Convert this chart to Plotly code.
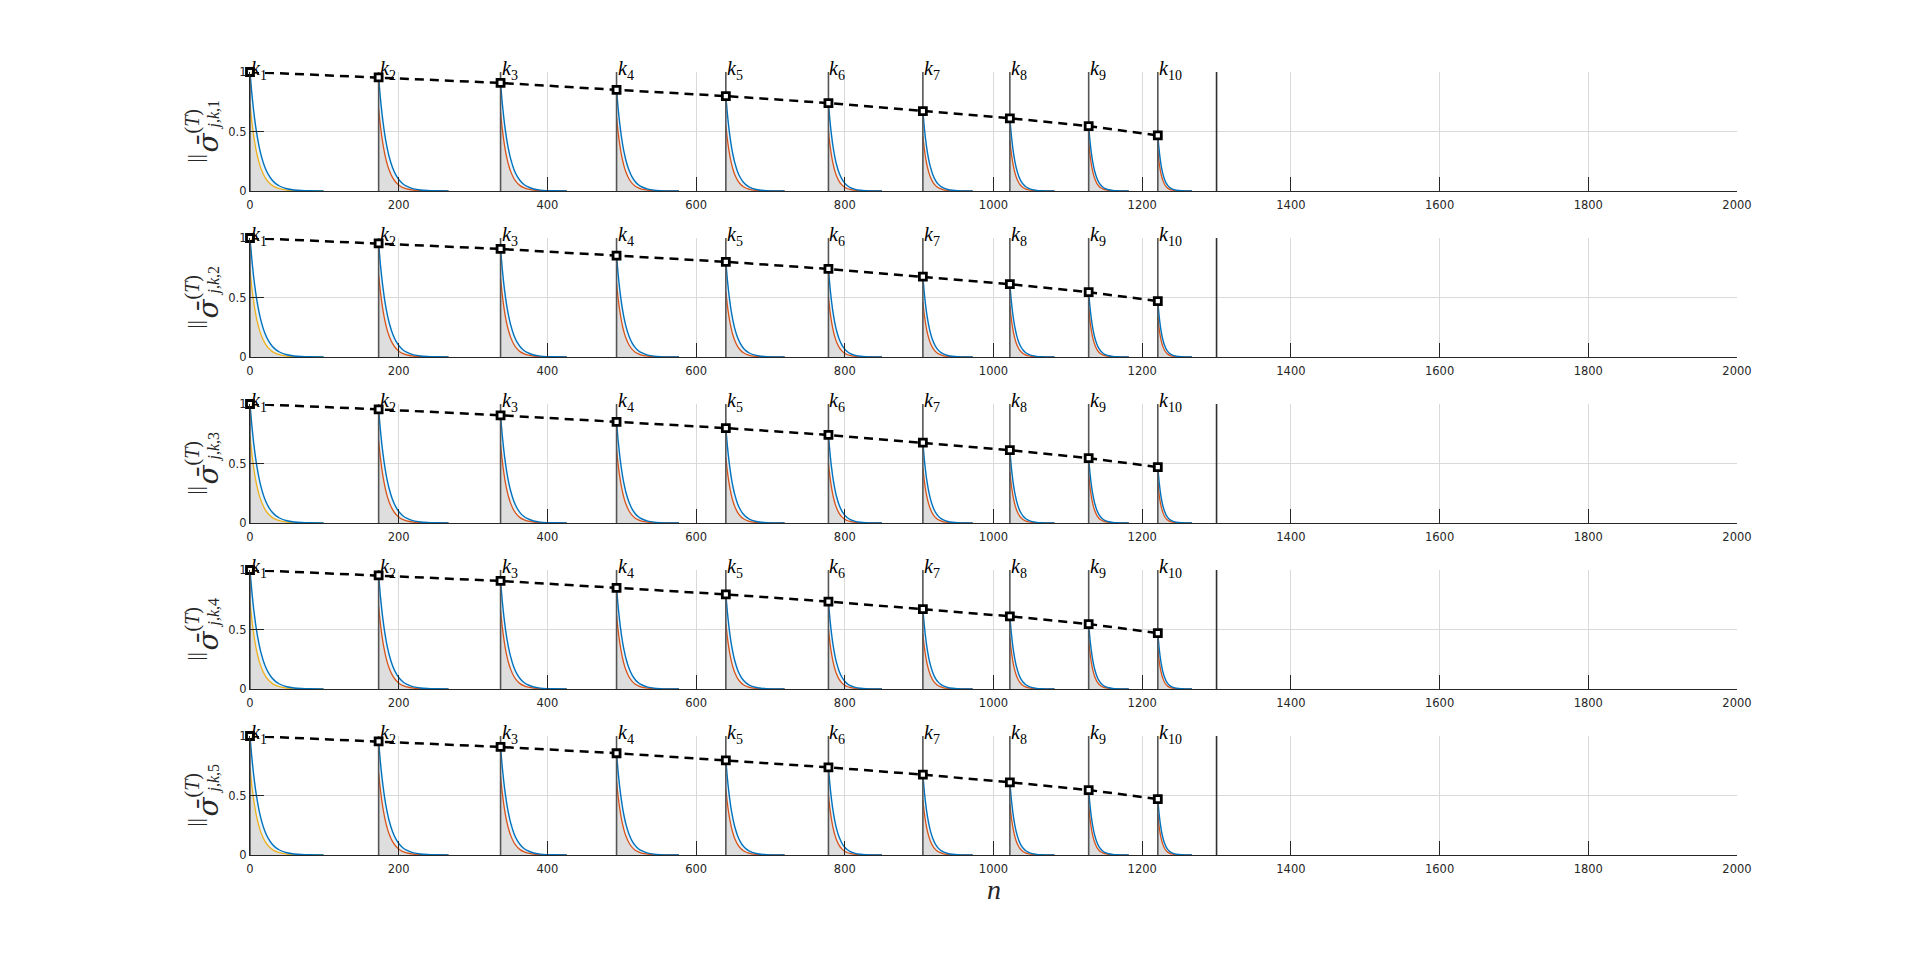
import plotly.graph_objects as go

# ---------------- data ----------------
X_TICKS = [0, 200, 400, 600, 800, 1000, 1200, 1400, 1600, 1800, 2000]
X_TICK_LABELS = ["0", "200", "400", "600", "800", "1000", "1200", "1400", "1600", "1800", "2000"]
Y_TICKS = [0, 0.5, 1]
Y_TICK_LABELS = ["0", "0.5", "1"]

K_NAMES = ["1", "2", "3", "4", "5", "6", "7", "8", "9", "10"]
K_POS = [0, 173, 337, 493, 640, 778, 905, 1022, 1128, 1221]
END_N = 1300

# peak of the leading (blue) curve at each k, per panel
PEAKS_1 = [1.0, 0.955, 0.908, 0.850, 0.798, 0.739, 0.672, 0.611, 0.546, 0.468]
PEAKS_2 = [1.0, 0.955, 0.908, 0.852, 0.800, 0.740, 0.675, 0.612, 0.545, 0.470]
PEAKS_3 = [1.0, 0.955, 0.905, 0.850, 0.798, 0.740, 0.675, 0.612, 0.545, 0.470]
PEAKS_4 = [1.0, 0.955, 0.908, 0.850, 0.795, 0.735, 0.672, 0.611, 0.546, 0.470]
PEAKS_5 = [1.0, 0.955, 0.908, 0.855, 0.795, 0.737, 0.675, 0.611, 0.546, 0.470]
PANEL_PEAKS = [PEAKS_1, PEAKS_2, PEAKS_3, PEAKS_4, PEAKS_5]

# start value of the lower curve (yellow at k1, red afterwards)
LOWER_START = [0.73, 0.69, 0.66, 0.62, 0.55, 0.50, 0.46, 0.43, 0.41, 0.34]
# visible length of each decay (in n)
CURVE_LEN = [99, 94, 89, 84, 79, 72, 67, 60, 54, 46]

# normalized decay shapes sampled along the curve (fraction of its length)
PROFILE_U = [0, 0.025, 0.05, 0.075, 0.1, 0.125, 0.15, 0.2, 0.25, 0.3, 0.35, 0.4, 0.5, 0.6, 0.7, 0.8, 1.0]
BLUE_PROFILE = [1, 0.82, 0.672, 0.551, 0.452, 0.371, 0.304, 0.204, 0.137, 0.092, 0.062, 0.042, 0.019, 0.0085, 0.0039, 0.0017, 0.0004]
LOWER_PROFILE = [1, 0.797, 0.635, 0.506, 0.403, 0.321, 0.256, 0.162, 0.103, 0.065, 0.042, 0.026, 0.011, 0.004, 0.0017, 0.0007, 0.0001]

SUB_INDEX = ["1", "2", "3", "4", "5"]

# ---------------- style ----------------
BLUE = "#0072BD"
RED = "#D95319"
YELLOW = "#EDB120"
AX = "#262626"
GRID = "#d9d9d9"
TICKFONT = dict(family="DejaVu Sans", size=11.5, color=AX)
SERIF = "Liberation Serif"

W, H = 1920, 961
L_PX, R_PX = 250, 182.5
T_PX, B_PX = 72, 106
PANEL_TOPS = [72, 238, 404, 570, 736]
PANEL_H = 119
PLOT_H = H - T_PX - B_PX

fig = go.Figure()
layout = dict(
    width=W, height=H, paper_bgcolor="white", plot_bgcolor="white",
    margin=dict(l=L_PX, r=R_PX, t=T_PX, b=B_PX, pad=0),
    showlegend=False,
)
annotations = []

for p in range(5):
    sfx = "" if p == 0 else str(p + 1)
    xr, yr = "x" + sfx, "y" + sfx
    peaks = PANEL_PEAKS[p]
    bottom_frac = (H - B_PX - (PANEL_TOPS[p] + PANEL_H)) / PLOT_H
    top_frac = (H - B_PX - PANEL_TOPS[p]) / PLOT_H

    # decays with shaded areas
    for i, k in enumerate(K_POS):
        xs = [k + u * CURVE_LEN[i] for u in PROFILE_U]
        low = [LOWER_START[i] * v for v in LOWER_PROFILE]
        up = [peaks[i] * v for v in BLUE_PROFILE]
        lc = YELLOW if i == 0 else RED
        fig.add_trace(go.Scatter(x=xs, y=low, xaxis=xr, yaxis=yr, mode="lines",
                                 line=dict(color=lc, width=1.3, shape="spline", smoothing=0.6),
                                 fill="tozeroy", fillcolor="rgba(200,200,200,0.6)",
                                 hoverinfo="skip"))
        fig.add_trace(go.Scatter(x=xs, y=up, xaxis=xr, yaxis=yr, mode="lines",
                                 line=dict(color=BLUE, width=1.4, shape="spline", smoothing=0.6),
                                 fill="tonexty", fillcolor="rgba(0,114,189,0.09)",
                                 hoverinfo="skip"))

    # vertical lines at each k
    vx, vy = [], []
    for k in K_POS:
        vx += [k, k, None]
        vy += [0, 1, None]
    fig.add_trace(go.Scatter(x=vx, y=vy, xaxis=xr, yaxis=yr, mode="lines",
                             line=dict(color="#555555", width=1.6), hoverinfo="skip"))
    fig.add_trace(go.Scatter(x=[END_N, END_N], y=[0, 1], xaxis=xr, yaxis=yr, mode="lines",
                             line=dict(color="#303030", width=1.6), hoverinfo="skip"))

    # dashed peak envelope with square markers
    fig.add_trace(go.Scatter(x=K_POS, y=peaks, xaxis=xr, yaxis=yr, mode="lines+markers",
                             line=dict(color="black", width=2.5, dash="9px,6px"),
                             marker=dict(symbol="square", size=7, color="white",
                                         line=dict(color="black", width=2.8)),
                             cliponaxis=False, hoverinfo="skip"))

    layout["xaxis" + sfx] = dict(
        domain=[0, 1], anchor=yr, range=[0, 2000],
        tickmode="array", tickvals=X_TICKS, ticktext=X_TICK_LABELS,
        ticks="inside", ticklen=14, tickwidth=1, tickcolor=AX,
        showline=True, linecolor=AX, linewidth=1.2,
        showgrid=True, gridcolor=GRID, gridwidth=1, zeroline=False,
        tickfont=TICKFONT, ticklabelstandoff=3,
    )
    layout["yaxis" + sfx] = dict(
        domain=[bottom_frac, top_frac], anchor=xr, range=[0, 1],
        tickmode="array", tickvals=Y_TICKS, ticktext=Y_TICK_LABELS,
        ticks="inside", ticklen=14, tickwidth=1, tickcolor=AX,
        showline=True, linecolor=AX, linewidth=1.2,
        showgrid=True, gridcolor=GRID, gridwidth=1, zeroline=False,
        tickfont=TICKFONT,
    )

    # k labels: italic k plus a smaller index beside it
    for i, k in enumerate(K_POS):
        annotations.append(dict(
            x=k, y=1, xref=xr, yref=yr, xanchor="left", yanchor="middle",
            text="<i>k</i>", showarrow=False,
            font=dict(family=SERIF, size=20, color="black"),
            xshift=-1, yshift=4,
        ))
        annotations.append(dict(
            x=k, y=1, xref=xr, yref=yr, xanchor="left", yanchor="middle",
            text=K_NAMES[i], showarrow=False,
            font=dict(family=SERIF, size=14, color="black"),
            xshift=8, yshift=-3,
        ))

    # y-axis title pieces (rotated)
    ydom = yr + " domain"
    annotations.append(dict(
        x=0, y=0.5, xref="paper", yref=ydom, text="||", textangle=-90,
        showarrow=False, xanchor="center", yanchor="middle", xshift=-56, yshift=-27,
        font=dict(family=SERIF, size=21, color=AX)))
    annotations.append(dict(
        x=0, y=0.5, xref="paper", yref=ydom, text="<i>σ̄</i>", textangle=-90,
        showarrow=False, xanchor="center", yanchor="middle", xshift=-42, yshift=-11,
        font=dict(family="DejaVu Serif", size=28, color=AX)))
    annotations.append(dict(
        x=0, y=0.5, xref="paper", yref=ydom, text="(<i>T</i>)", textangle=-90,
        showarrow=False, xanchor="center", yanchor="middle", xshift=-58, yshift=10,
        font=dict(family=SERIF, size=20, color=AX)))
    annotations.append(dict(
        x=0, y=0.5, xref="paper", yref=ydom, text="<i>j</i>,<i>k</i>," + SUB_INDEX[p], textangle=-90,
        showarrow=False, xanchor="center", yanchor="middle", xshift=-37, yshift=17,
        font=dict(family=SERIF, size=16, color=AX)))

# x-axis title
annotations.append(dict(
    x=0.5, y=0, xref="paper", yref="paper", text="<i>n</i>", showarrow=False,
    xanchor="center", yanchor="middle", yshift=-34,
    font=dict(family=SERIF, size=28, color=AX)))

layout["annotations"] = annotations
fig.update_layout(**layout)
fig.write_html("out.html")
